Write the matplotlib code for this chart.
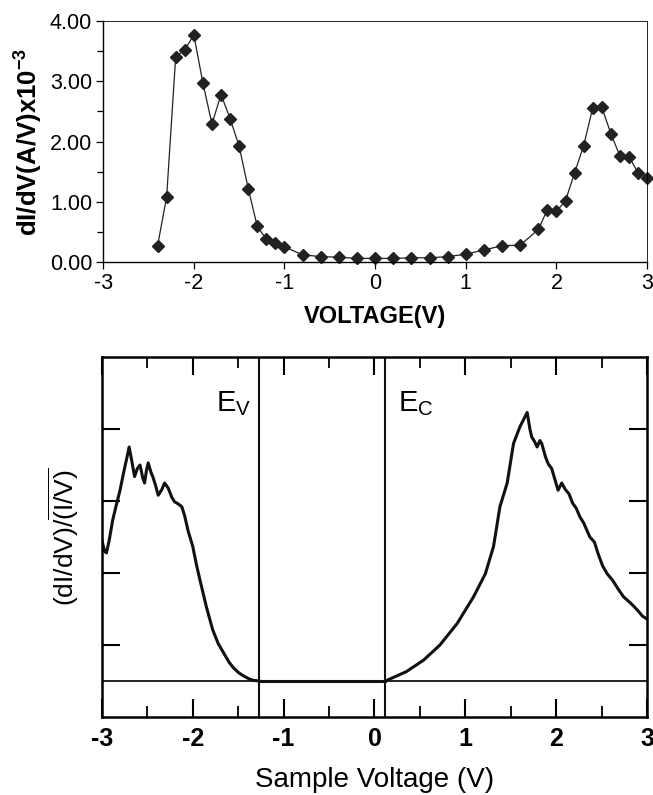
import numpy as np
import matplotlib
matplotlib.use('Agg')
import matplotlib.pyplot as plt
from matplotlib.ticker import MultipleLocator

plt.rcParams['font.family'] = ['Liberation Sans', 'DejaVu Sans']
plt.rcParams['axes.unicode_minus'] = False
plt.rcParams['mathtext.fontset'] = 'custom'
plt.rcParams['mathtext.rm'] = 'Liberation Sans'
plt.rcParams['mathtext.bf'] = 'Liberation Sans:bold'

# top panel: measured dI/dV (diamonds)
top_v = [-2.4, -2.3, -2.2, -2.1, -2.0, -1.9, -1.8, -1.7, -1.6, -1.5, -1.4, -1.3,
         -1.2, -1.1, -1.0, -0.8, -0.6, -0.4, -0.2, 0.0, 0.2, 0.4, 0.6, 0.8, 1.0,
         1.2, 1.4, 1.6, 1.8, 1.9, 2.0, 2.1, 2.2, 2.3, 2.4, 2.5, 2.6, 2.7, 2.8,
         2.9, 3.0]
top_g = [0.27, 1.08, 3.41, 3.52, 3.77, 2.97, 2.29, 2.78, 2.38, 1.92, 1.22, 0.59,
         0.38, 0.32, 0.25, 0.12, 0.09, 0.08, 0.06, 0.06, 0.06, 0.07, 0.07, 0.09,
         0.13, 0.20, 0.27, 0.28, 0.54, 0.87, 0.84, 1.02, 1.48, 1.93, 2.56, 2.57,
         2.13, 1.76, 1.75, 1.48, 1.39]

# bottom panel: normalized conductance, valence side
val_v = [-3.0, -2.97, -2.95, -2.92, -2.88, -2.84, -2.80, -2.76, -2.73, -2.70,
         -2.67, -2.64, -2.61, -2.58, -2.55, -2.53, -2.51, -2.49, -2.46, -2.44,
         -2.41, -2.38, -2.34, -2.31, -2.27, -2.23, -2.20, -2.16, -2.12, -2.09,
         -2.05, -2.00, -1.96, -1.92, -1.85, -1.78, -1.72, -1.66, -1.60, -1.55,
         -1.49, -1.44, -1.38, -1.34, -1.27]
val_g = [1.96, 1.80, 1.78, 1.95, 2.24, 2.45, 2.65, 2.90, 3.07, 3.25,
         3.05, 2.84, 2.95, 3.00, 2.82, 2.75, 2.92, 3.03, 2.90, 2.84,
         2.72, 2.58, 2.66, 2.75, 2.68, 2.55, 2.49, 2.46, 2.42, 2.30,
         2.08, 1.87, 1.62, 1.40, 1.03, 0.71, 0.52, 0.39, 0.26, 0.18,
         0.11, 0.07, 0.03, 0.01, 0.0]

# flat gap region
gap_v = [-1.27, 0.12]
gap_g = [0.0, 0.0]

# conduction side
con_v = [0.12, 0.35, 0.54, 0.72, 0.91, 1.09, 1.22, 1.31, 1.38, 1.46, 1.53,
         1.60, 1.68, 1.71, 1.73, 1.76, 1.79, 1.82, 1.84, 1.88, 1.91, 1.95,
         2.02, 2.06, 2.10, 2.14, 2.18, 2.22, 2.26, 2.30, 2.37, 2.42, 2.46,
         2.51, 2.56, 2.62, 2.68, 2.74, 2.82, 2.89, 2.95, 3.0]
con_g = [0.0, 0.13, 0.29, 0.50, 0.80, 1.17, 1.49, 1.87, 2.42, 2.75, 3.30,
         3.53, 3.73, 3.50, 3.39, 3.33, 3.25, 3.34, 3.30, 3.12, 3.02, 2.95,
         2.65, 2.75, 2.66, 2.60, 2.47, 2.40, 2.28, 2.20, 2.00, 1.93, 1.77,
         1.60, 1.49, 1.40, 1.28, 1.17, 1.08, 0.99, 0.90, 0.86]

E_V = -1.27
E_C = 0.12

fig = plt.figure(figsize=(6.53, 7.95), dpi=100)

# --- top panel ---
ax1 = fig.add_axes([0.158, 0.6704, 0.833, 0.3032])
ax1.plot(top_v, top_g, color='#222222', lw=0.9, marker='D', ms=6.5,
         mfc='#222222', mec='#222222', clip_on=False)
ax1.set_xlim(-3, 3)
ax1.set_ylim(0, 4)
ax1.set_xticks([-3, -2, -1, 0, 1, 2, 3])
ax1.set_yticks([0, 1, 2, 3, 4])
ax1.set_yticklabels(['0.00', '1.00', '2.00', '3.00', '4.00'])
ax1.yaxis.set_minor_locator(MultipleLocator(0.5))
ax1.tick_params(direction='out', length=5, width=0.9, labelsize=15.5, pad=3)
ax1.tick_params(which='minor', direction='out', length=4, width=0.9)
for s in ['left', 'bottom']:
    ax1.spines[s].set_linewidth(1.0)
for s in ['top', 'right']:
    ax1.spines[s].set_linewidth(0.6)
ax1.set_xlabel('VOLTAGE(V)', fontsize=17, fontweight='bold', labelpad=8)
ax1.set_ylabel(r'dI/dV(A/V)x10$^{\mathbf{-3}}$', fontsize=18.5,
               fontweight='bold', labelpad=4)

# --- bottom panel ---
ax2 = fig.add_axes([0.156, 0.0981, 0.835, 0.4528])
lc = '#111111'
ax2.plot(val_v, val_g, color=lc, lw=2.2)
ax2.plot(gap_v, gap_g, color=lc, lw=2.2)
ax2.plot(con_v, con_g, color=lc, lw=2.2)
ax2.axhline(0, color=lc, lw=1.3)
ax2.axvline(E_V, color=lc, lw=1.5)
ax2.axvline(E_C, color=lc, lw=1.5)
ax2.set_xlim(-3, 3)
ax2.set_ylim(-0.5, 4.5)
ax2.set_xticks([-3, -2, -1, 0, 1, 2, 3])
ax2.xaxis.set_minor_locator(MultipleLocator(0.5))
ax2.set_yticks([0.5, 1.5, 2.5, 3.5])
ax2.set_yticklabels([])
ax2.tick_params(direction='in', top=True, right=True, length=13, width=1.5,
                labelsize=18, pad=7)
ax2.tick_params(which='minor', direction='in', top=True, length=8, width=1.3)
for lab in ax2.get_xticklabels():
    lab.set_fontweight('bold')
for s in ax2.spines.values():
    s.set_linewidth(1.8)
ax2.text(E_V - 0.09, 3.85, r'E$_\mathregular{V}$', fontsize=21, ha='right',
         va='center')
ax2.text(E_C + 0.14, 3.85, r'E$_\mathregular{C}$', fontsize=21, ha='left',
         va='center')
ax2.set_xlabel('Sample Voltage (V)', fontsize=20, labelpad=12)
ax2.set_ylabel(r'(dI/dV)/$\overline{\mathregular{(I/V)}}$', fontsize=19,
               labelpad=8)

fig.savefig('out.png', dpi=100)
